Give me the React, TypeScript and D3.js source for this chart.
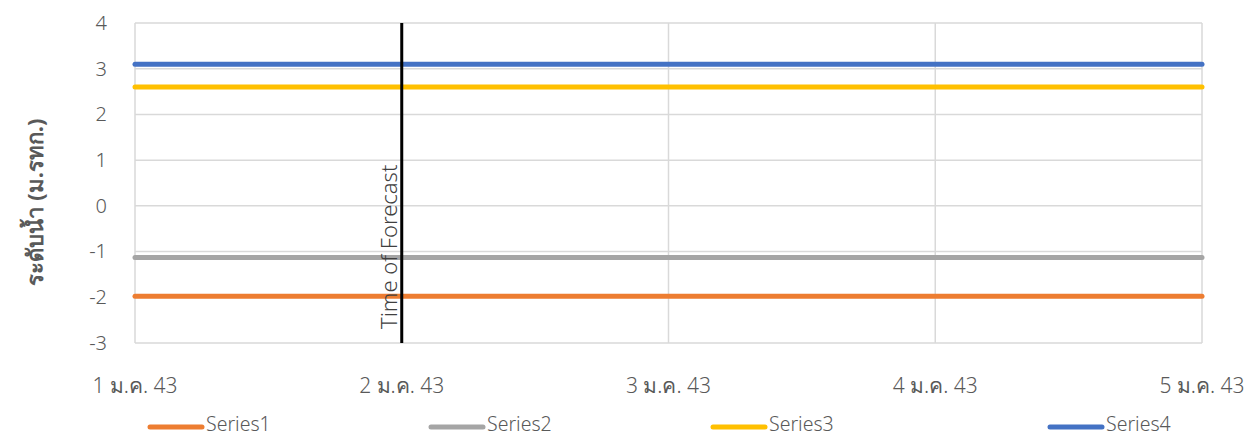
import { useEffect, useRef } from 'react';
import { axisLeft, line, scaleLinear, scalePoint, select } from 'd3';

const categories = ['1 ม.ค. 43', '2 ม.ค. 43', '3 ม.ค. 43', '4 ม.ค. 43', '5 ม.ค. 43'];
const seriesNames = ['Series1', 'Series2', 'Series3', 'Series4'];
const series1 = [-1.98, -1.98, -1.98, -1.98, -1.98];
const series2 = [-1.13, -1.13, -1.13, -1.13, -1.13];
const series3 = [2.6, 2.6, 2.6, 2.6, 2.6];
const series4 = [3.1, 3.1, 3.1, 3.1, 3.1];
const yTicks = [-3, -2, -1, 0, 1, 2, 3, 4];
const forecastAt = '2 ม.ค. 43';

const colors = ['#ed7d31', '#a5a5a5', '#ffc000', '#4472c4'];
const legendX = [150, 431, 713, 1050];

function App(): JSX.Element {
  const svgRef = useRef<SVGSVGElement | null>(null);
  const width = 1259;
  const height = 437;
  const margin = { top: 23, right: 57, bottom: 94, left: 135 };

  useEffect(() => {
    if (svgRef.current) svgRef.current.innerHTML = '';
    const svg = select(svgRef.current);
    const font = '"Noto Sans", "DejaVu Sans", sans-serif';

    const x = scalePoint<string>()
      .domain(categories)
      .range([margin.left, width - margin.right]);
    const y = scaleLinear()
      .domain([-3, 4])
      .range([height - margin.bottom, margin.top]);

    // horizontal grid
    svg
      .append('g')
      .selectAll('line')
      .data(yTicks)
      .join('line')
      .attr('x1', margin.left)
      .attr('x2', width - margin.right)
      .attr('y1', (d) => y(d))
      .attr('y2', (d) => y(d))
      .attr('stroke', '#d9d9d9')
      .attr('stroke-width', 1.5);

    // vertical grid
    svg
      .append('g')
      .selectAll('line')
      .data(categories)
      .join('line')
      .attr('x1', (d) => x(d) as number)
      .attr('x2', (d) => x(d) as number)
      .attr('y1', y(4))
      .attr('y2', y(-3))
      .attr('stroke', '#d9d9d9')
      .attr('stroke-width', 1.5);

    // y axis labels
    const yAxis = svg
      .append('g')
      .attr('transform', `translate(${margin.left - 25},0)`)
      .call(axisLeft(y).tickValues(yTicks).tickSize(0).tickFormat((d) => String(d)));
    yAxis.select('.domain').remove();
    yAxis
      .selectAll('text')
      .attr('font-family', font)
      .attr('font-size', 20)
      .attr('font-weight', 300)
      .attr('fill', '#595959')
      .attr('dy', '0.32em');

    // x labels
    svg
      .append('g')
      .selectAll('text')
      .data(categories)
      .join('text')
      .attr('x', (d) => x(d) as number)
      .attr('y', 393)
      .attr('text-anchor', 'middle')
      .attr('font-family', font)
      .attr('font-size', 21)
      .attr('font-weight', 300)
      .attr('fill', '#595959')
      .text((d) => d);

    // y title
    svg
      .append('text')
      .attr('transform', `translate(43,202) rotate(-90)`)
      .attr('text-anchor', 'middle')
      .attr('font-family', font)
      .attr('font-size', 22)
      .attr('font-weight', 'bold')
      .attr('fill', '#595959')
      .text('ระดับน้ำ (ม.รทก.)');

    // series lines
    const lineGen = line<number>()
      .x((_d, i) => x(categories[i]) as number)
      .y((d) => y(d));
    const allSeries = [series1, series2, series3, series4];
    allSeries.forEach((s, i) => {
      svg
        .append('path')
        .datum(s)
        .attr('d', lineGen)
        .attr('fill', 'none')
        .attr('stroke', colors[i])
        .attr('stroke-width', 5)
        .attr('stroke-linecap', 'round');
    });

    // forecast line
    const fx = x(forecastAt) as number;
    svg
      .append('line')
      .attr('x1', fx)
      .attr('x2', fx)
      .attr('y1', y(4))
      .attr('y2', y(-3))
      .attr('stroke', '#000')
      .attr('stroke-width', 3);
    svg
      .append('text')
      .attr('transform', `translate(${fx - 5},${y(-3) - 14}) rotate(-90)`)
      .attr('font-family', font)
      .attr('font-size', 22)
      .attr('font-weight', 300)
      .attr('fill', '#404040')
      .text('Time of Forecast');

    // legend
    seriesNames.forEach((name, i) => {
      const lx = legendX[i];
      svg
        .append('line')
        .attr('x1', lx)
        .attr('x2', lx + 52)
        .attr('y1', 427)
        .attr('y2', 427)
        .attr('stroke', colors[i])
        .attr('stroke-width', 5)
        .attr('stroke-linecap', 'round');
      svg
        .append('text')
        .attr('x', lx + 56)
        .attr('y', 431)
        .attr('font-family', font)
        .attr('font-size', 19.5)
        .attr('font-weight', 300)
        .attr('fill', '#595959')
        .text(name);
    });
  }, []);

  return (
    <div style={{ position: 'absolute', left: 0, top: 0 }}>
      <svg ref={svgRef} width={width} height={height} />
    </div>
  );
}

export default App;
